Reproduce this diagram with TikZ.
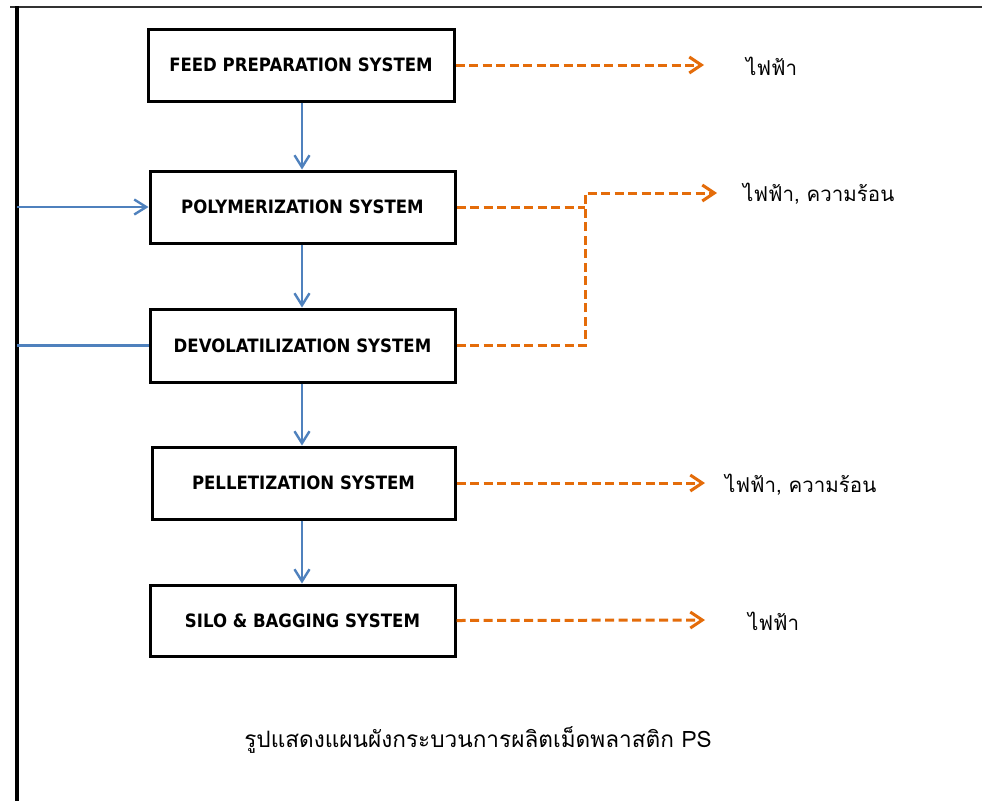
\documentclass[tikz,border=0pt]{standalone}
\usepackage{fontspec}
\usetikzlibrary{arrows.meta}
\newfontfamily\boxfont{DejaVu Sans}[FakeStretch=0.9]
\newfontfamily\thaifont[Script=Thai]{Loma}
\definecolor{flowblue}{RGB}{79,129,189}
\definecolor{floworange}{RGB}{228,108,10}
\definecolor{framegray}{RGB}{50,50,50}
\tikzset{
  sysbox/.style={draw=black, line width=3pt, rectangle, inner sep=0pt,
    font=\boxfont\bfseries\fontsize{18.4}{21}\selectfont, text=black},
  blueflow/.style={draw=flowblue, line width=2.4pt, -{Straight Barb[length=12pt,width=15pt,line width=2.4pt]}},
  blueline/.style={draw=flowblue, line width=2.4pt},
  orangeflow/.style={draw=floworange, line width=3pt, dash pattern=on 9pt off 4.5pt,
    -{Straight Barb[length=12pt,width=16pt,line width=3pt]}},
  orangeline/.style={draw=floworange, line width=3pt, dash pattern=on 9pt off 4.5pt},
  thailabel/.style={anchor=west, inner sep=0pt, font=\thaifont\fontsize{20.5}{24}\selectfont},
}
\begin{document}
\begin{tikzpicture}[x=1pt,y=-1pt]
\useasboundingbox (0,0) rectangle (982,801);
% frame lines
\draw[framegray, line width=2.2pt] (10,7) -- (982,7);
\draw[black, line width=3.4pt] (17,6) -- (17,801);
\coordinate (leftA) at (17,207);
\coordinate (leftB) at (17,345.5);
% boxes
\node[sysbox, minimum width=306pt, minimum height=72pt] (feed) at (301,65) {FEED PREPARATION SYSTEM};
\node[sysbox, minimum width=305pt, minimum height=72pt] (poly) at (302.5,207) {POLYMERIZATION SYSTEM};
\node[sysbox, minimum width=305pt, minimum height=73pt] (devol) at (302.5,345.5) {DEVOLATILIZATION SYSTEM};
\node[sysbox, minimum width=303pt, minimum height=72pt] (pellet) at (303.5,483) {PELLETIZATION SYSTEM};
\node[sysbox, minimum width=305pt, minimum height=71pt] (silo) at (302.5,620.5) {SILO \& BAGGING SYSTEM};
% blue flows
\coordinate (vx) at (302,0);
\draw[blueflow] (vx |- feed.south) -- (vx |- poly.north);
\draw[blueflow] (vx |- poly.south) -- (vx |- devol.north);
\draw[blueflow] (vx |- devol.south) -- (vx |- pellet.north);
\draw[blueflow] (vx |- pellet.south) -- (vx |- silo.north);
\draw[blueflow] (leftA) -- (poly.west);
\draw[blueline] (leftB) -- (devol.west);
% orange outputs
\coordinate (e1) at (704,65);
\coordinate (j2) at (585,193);
\coordinate (e2) at (717,193);
\coordinate (e4) at (705,483);
\coordinate (e5) at (705,620);
\draw[orangeflow] (feed.east) -- (e1);
\draw[orangeline] (poly.east) -- (poly.east -| j2);
\draw[orangeflow] (devol.east) -| (j2) -- (e2);
\draw[orangeflow] (pellet.east) -- (e4);
\draw[orangeflow] (silo.east) -- (e5);
% labels
\node[thailabel] (l1) at (746,66) {ไฟฟ้า};
\node[thailabel] (l2) at (743,194) {ไฟฟ้า, ความร้อน};
\node[thailabel] (l4) at (725,485) {ไฟฟ้า, ความร้อน};
\node[thailabel] (l5) at (748,621) {ไฟฟ้า};
\node[anchor=center, inner sep=0pt, font=\thaifont\fontsize{22.6}{26}\selectfont] (cap) at (478,740) {รูปแสดงแผนผังกระบวนการผลิตเม็ดพลาสติก PS};
\end{tikzpicture}
\end{document}
